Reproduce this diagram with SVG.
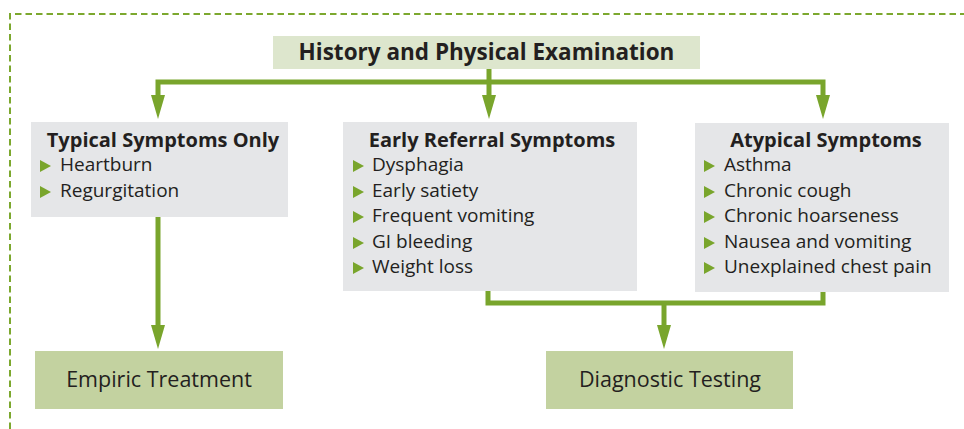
<svg xmlns="http://www.w3.org/2000/svg" width="964" height="429" viewBox="0 0 964 429">
<style>
.t{font-family:"Open Sans","Noto Sans",sans-serif;fill:#231f20}
.h{font-weight:bold;font-size:20px;text-anchor:middle}
.hh{font-weight:bold;font-size:22.5px;text-anchor:middle}
.i{font-size:19px}
.b{font-size:21.5px;text-anchor:middle}
.g{fill:#e5e6e8}
.c{fill:none;stroke:#79a52c;stroke-width:5}
.bl{fill:#79a52c}
</style>
<defs>
<marker id="ar" markerUnits="userSpaceOnUse" markerWidth="24" markerHeight="14" refX="0" refY="7" orient="auto-start-reverse" overflow="visible">
<path d="M0,0 L24,7 L0,14 Z" fill="#79a52c"/>
</marker>
<path id="tri" d="M0,0 L11,6 L0,12 Z"/>
</defs>
<path d="M10,429 V14 H964" fill="none" stroke="#7ca82e" stroke-width="2" stroke-dasharray="6.5 4"/>
<g id="connectors">
<path class="c" d="M158,95 V82 H823 V95" marker-start="url(#ar)" marker-end="url(#ar)"/>
<path class="c" d="M489,69 V95" marker-end="url(#ar)"/>
<path class="c" d="M158,217 V325" marker-end="url(#ar)"/>
<path class="c" d="M488,291 V303 H823 V292"/>
<path class="c" d="M664,303 V325" marker-end="url(#ar)"/>
</g>
<g id="history">
<rect x="273" y="36" width="427" height="33" fill="#dde6cd"/>
<text class="t hh" x="486.5" y="60">History and Physical Examination</text>
</g>
<g id="typical">
<rect class="g" x="31" y="122" width="257" height="95"/>
<text class="t h" x="163" y="147">Typical Symptoms Only</text>
<use href="#tri" class="bl" x="40" y="160"/>
<text class="t i" x="60" y="171">Heartburn</text>
<use href="#tri" class="bl" x="40" y="186"/>
<text class="t i" x="60" y="197">Regurgitation</text>
</g>
<g id="early">
<rect class="g" x="343" y="122" width="294" height="169"/>
<text class="t h" x="492" y="147">Early Referral Symptoms</text>
<use href="#tri" class="bl" x="353" y="160"/>
<text class="t i" x="372" y="171">Dysphagia</text>
<use href="#tri" class="bl" x="353" y="186"/>
<text class="t i" x="372" y="197">Early satiety</text>
<use href="#tri" class="bl" x="353" y="211"/>
<text class="t i" x="372" y="222">Frequent vomiting</text>
<use href="#tri" class="bl" x="353" y="237"/>
<text class="t i" x="372" y="248">GI bleeding</text>
<use href="#tri" class="bl" x="353" y="262"/>
<text class="t i" x="372" y="273">Weight loss</text>
</g>
<g id="atypical">
<rect class="g" x="695" y="123" width="254" height="169"/>
<text class="t h" x="826" y="147">Atypical Symptoms</text>
<use href="#tri" class="bl" x="704" y="160"/>
<text class="t i" x="724" y="171">Asthma</text>
<use href="#tri" class="bl" x="704" y="186"/>
<text class="t i" x="724" y="197">Chronic cough</text>
<use href="#tri" class="bl" x="704" y="211"/>
<text class="t i" x="724" y="222">Chronic hoarseness</text>
<use href="#tri" class="bl" x="704" y="237"/>
<text class="t i" x="724" y="248">Nausea and vomiting</text>
<use href="#tri" class="bl" x="704" y="262"/>
<text class="t i" x="724" y="273">Unexplained chest pain</text>
</g>
<g id="empiric">
<rect x="35" y="351" width="248" height="58" fill="#c3d2a0"/>
<text class="t b" x="159" y="387">Empiric Treatment</text>
</g>
<g id="diagnostic">
<rect x="546" y="351" width="247" height="58" fill="#c3d2a0"/>
<text class="t b" x="670" y="387">Diagnostic Testing</text>
</g>
</svg>
